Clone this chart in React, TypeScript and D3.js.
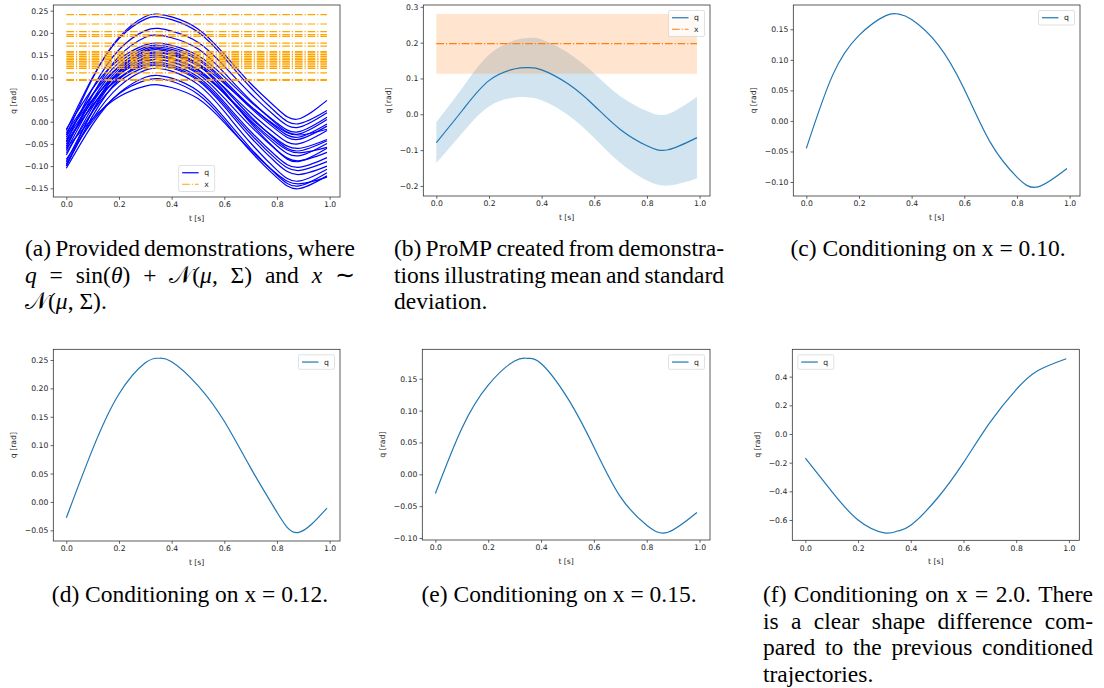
import * as d3 from 'd3';
import { useEffect, useRef } from 'react';

// ---------------- data ----------------
const tSamples = [0, 0.1, 0.2, 0.3, 0.35, 0.4, 0.5, 0.6, 0.7, 0.8, 0.88, 0.99];

// (a) demonstrations q
const demoQ = [
  [-0.03, 0.098, 0.19, 0.237, 0.242, 0.236, 0.209, 0.152, 0.086, 0.03, 0.006, 0.048],
  [-0.02, 0.1, 0.187, 0.231, 0.236, 0.23, 0.202, 0.144, 0.077, 0.019, -0.005, 0.025],
  [-0.045, 0.075, 0.162, 0.205, 0.21, 0.204, 0.179, 0.125, 0.063, 0.009, -0.013, 0.02],
  [-0.06, 0.06, 0.147, 0.19, 0.195, 0.189, 0.164, 0.11, 0.048, -0.006, -0.028, 0.005],
  [-0.017, 0.075, 0.14, 0.173, 0.177, 0.172, 0.149, 0.101, 0.045, -0.003, -0.023, 0.01],
  [-0.035, 0.062, 0.133, 0.168, 0.172, 0.167, 0.143, 0.093, 0.035, -0.014, -0.035, -0.005],
  [-0.055, 0.05, 0.125, 0.164, 0.168, 0.163, 0.139, 0.089, 0.031, -0.019, -0.04, -0.01],
  [-0.065, 0.042, 0.119, 0.158, 0.162, 0.156, 0.13, 0.075, 0.012, -0.043, -0.066, -0.043],
  [-0.025, 0.061, 0.123, 0.153, 0.157, 0.152, 0.131, 0.086, 0.034, -0.011, -0.03, -0.017],
  [-0.09, 0.023, 0.105, 0.145, 0.15, 0.144, 0.118, 0.064, 0.0, -0.054, -0.077, -0.049],
  [-0.04, 0.047, 0.111, 0.142, 0.146, 0.141, 0.116, 0.064, 0.003, -0.048, -0.07, -0.058],
  [-0.1, 0.013, 0.095, 0.135, 0.14, 0.134, 0.108, 0.053, -0.01, -0.065, -0.088, -0.069],
  [-0.05, 0.037, 0.099, 0.13, 0.134, 0.128, 0.101, 0.044, -0.022, -0.079, -0.103, -0.081],
  [-0.07, 0.023, 0.09, 0.123, 0.127, 0.121, 0.093, 0.034, -0.035, -0.094, -0.119, -0.1],
  [-0.095, 0.006, 0.079, 0.116, 0.12, 0.114, 0.084, 0.023, -0.048, -0.109, -0.134, -0.107],
  [-0.105, -0.006, 0.064, 0.1, 0.104, 0.098, 0.069, 0.009, -0.06, -0.12, -0.145, -0.115],
  [-0.085, 0.001, 0.063, 0.093, 0.097, 0.091, 0.062, 0.003, -0.067, -0.126, -0.151, -0.122],
  [-0.06, 0.007, 0.056, 0.08, 0.083, 0.077, 0.052, -0.002, -0.064, -0.118, -0.14, -0.125],
  [-0.03, 0.05, 0.107, 0.137, 0.14, 0.135, 0.112, 0.064, 0.008, -0.04, -0.06, -0.04],
  [-0.1, 0.025, 0.114, 0.16, 0.165, 0.159, 0.129, 0.068, -0.003, -0.065, -0.09, -0.06],
  [-0.045, 0.037, 0.097, 0.127, 0.13, 0.124, 0.096, 0.039, -0.028, -0.086, -0.11, -0.09],
  [-0.075, 0.033, 0.112, 0.15, 0.155, 0.15, 0.126, 0.077, 0.02, -0.03, -0.05, -0.02],
];
// (a) demonstrations x
const demoX = [0.241, 0.22, 0.203, 0.196, 0.192, 0.177, 0.17, 0.158, 0.155, 0.151, 0.147,
  0.143, 0.14, 0.136, 0.132, 0.128, 0.124, 0.12, 0.11, 0.095, 0.093, 0.135];

// (b) ProMP mean and std band
const promMean = [-0.079, 0.012, 0.094, 0.127, 0.13, 0.124, 0.085, 0.024, -0.043, -0.088, -0.099, -0.065];
const promUpper = [-0.022, 0.075, 0.166, 0.207, 0.213, 0.209, 0.172, 0.114, 0.05, 0.009, 0.001, 0.049];
const promLower = [-0.136, -0.051, 0.022, 0.047, 0.047, 0.039, -0.002, -0.066, -0.136, -0.185, -0.199, -0.179];
const promX = [0.197];
const promXBand = [0.113, 0.28];

// (c)-(f) conditioned trajectories
const condQ010 = [-0.045, 0.075, 0.14, 0.172, 0.175, 0.166, 0.125, 0.052, -0.036, -0.092, -0.108, -0.078];
const condQ012 = [-0.028, 0.093, 0.19, 0.245, 0.253, 0.247, 0.205, 0.142, 0.06, -0.018, -0.054, -0.011];
const condQ015 = [-0.03, 0.072, 0.14, 0.178, 0.182, 0.174, 0.12, 0.043, -0.035, -0.08, -0.091, -0.06];
const condQ200 = [-0.168, -0.4, -0.6, -0.69, -0.677, -0.637, -0.45, -0.2, 0.08, 0.31, 0.44, 0.525];

const xTicks = [0, 0.2, 0.4, 0.6, 0.8, 1.0];
const yTicksA = [-0.15, -0.1, -0.05, 0, 0.05, 0.1, 0.15, 0.2, 0.25];
const yTicksB = [-0.2, -0.1, 0, 0.1, 0.2, 0.3];
const yTicksC = [-0.1, -0.05, 0, 0.05, 0.1, 0.15];
const yTicksD = [-0.05, 0, 0.05, 0.1, 0.15, 0.2, 0.25];
const yTicksE = [-0.1, -0.05, 0, 0.05, 0.1, 0.15];
const yTicksF = [-0.6, -0.4, -0.2, 0, 0.2, 0.4];

// captions: *...* marks italic
const capA = [
  { w: ['(a)', 'Provided', 'demonstrations,', 'where'], mode: 'justify' },
  { w: ['*q*', '=', 'sin(*θ*)', '+', '𝒩(*μ*,', 'Σ)', 'and', '*x*', '∼'], mode: 'justify' },
  { w: ['𝒩(*μ*,', 'Σ).'], mode: 'left' },
];
const capB = [
  { w: ['(b)', 'ProMP', 'created', 'from', 'demonstra-'], mode: 'justify' },
  { w: ['tions', 'illustrating', 'mean', 'and', 'standard'], mode: 'justify' },
  { w: ['deviation.'], mode: 'left' },
];
const capC = [{ w: ['(c)', 'Conditioning', 'on', 'x', '=', '0.10.'], mode: 'center' }];
const capD = [{ w: ['(d)', 'Conditioning', 'on', 'x', '=', '0.12.'], mode: 'center' }];
const capE = [{ w: ['(e)', 'Conditioning', 'on', 'x', '=', '0.15.'], mode: 'center' }];
const capF = [
  { w: ['(f)', 'Conditioning', 'on', 'x', '=', '2.0.', 'There'], mode: 'justify' },
  { w: ['is', 'a', 'clear', 'shape', 'difference', 'com-'], mode: 'justify' },
  { w: ['pared', 'to', 'the', 'previous', 'conditioned'], mode: 'justify' },
  { w: ['trajectories.'], mode: 'left' },
];

// ---------------- styles ----------------
const SANS = "'DejaVu Sans', sans-serif";
const SERIF = "'Liberation Serif', 'Times New Roman', Times, serif";
const TICK_SIZE = 7.7;
const CAP_SIZE = 23.5;
const BLUE = '#0000ff';
const ORANGE = '#ffa500';
const TAB_BLUE = '#1f77b4';
const TAB_ORANGE = '#ff7f0e';
const INK = '#262626';
const X_DOMAIN = [-0.0495, 1.0395];

const panels = [
  { id: 'a', x0: 53.3, x1: 340, y0: 5, y1: 197, yDomain: [-0.1696, 0.2628], ticks: yTicksA, fmt: '.2f' },
  { id: 'b', x0: 423.3, x1: 710, y0: 5, y1: 196, yDomain: [-0.228, 0.305], ticks: yTicksB, fmt: '.1f' },
  { id: 'c', x0: 793.3, x1: 1080, y0: 5, y1: 196, yDomain: [-0.1229, 0.1898], ticks: yTicksC, fmt: '.2f' },
  { id: 'd', x0: 53.3, x1: 340, y0: 349.3, y1: 541, yDomain: [-0.0688, 0.2688], ticks: yTicksD, fmt: '.2f' },
  { id: 'e', x0: 422.3, x1: 710, y0: 349.3, y1: 540, yDomain: [-0.1031, 0.1962], ticks: yTicksE, fmt: '.2f' },
  { id: 'f', x0: 792.3, x1: 1079.3, y0: 349.3, y1: 540.3, yDomain: [-0.7417, 0.591], ticks: yTicksF, fmt: '.1f' },
];

const columns = [[25, 355], [394, 724], [763, 1093]];

function App() {
  const svgRef = useRef<SVGSVGElement>(null);

  useEffect(() => {
    document.body.style.margin = '0';
    const svg = d3.select(svgRef.current);
    svg.selectAll('*').remove();

    const scales: any = {};

    panels.forEach(p => {
      const x = d3.scaleLinear().domain(X_DOMAIN).range([p.x0, p.x1]);
      const y = d3.scaleLinear().domain(p.yDomain).range([p.y1, p.y0]);
      scales[p.id] = { x, y, p };
    });

    const smooth = d3.curveNatural;
    const line = (x: any, y: any) => d3.line<any>()
      .x((d, i) => x(tSamples[i]))
      .y(d => y(d))
      .curve(smooth);

    // (a) demonstrations
    {
      const { x, y } = scales.a;
      const g = svg.append('g');
      demoQ.forEach(q => {
        g.append('path').datum(q).attr('d', line(x, y))
          .attr('fill', 'none').attr('stroke', BLUE).attr('stroke-width', 1.2);
      });
      demoX.forEach(v => {
        g.append('line')
          .attr('x1', x(tSamples[0])).attr('x2', x(tSamples[tSamples.length - 1]))
          .attr('y1', y(v)).attr('y2', y(v))
          .attr('stroke', ORANGE).attr('stroke-width', 1.2)
          .attr('stroke-dasharray', '7.7,1.9,1.2,1.9');
      });
    }

    // (b) ProMP
    {
      const { x, y } = scales.b;
      const g = svg.append('g');
      const band = d3.area<any>()
        .x((d, i) => x(tSamples[i]))
        .y0((d, i) => y(promLower[i]))
        .y1(d => y(d))
        .curve(smooth);
      g.append('path').datum(promUpper).attr('d', band)
        .attr('fill', TAB_BLUE).attr('fill-opacity', 0.2);
      const xs = [tSamples[0], tSamples[tSamples.length - 1]];
      const xBand = d3.area<number>().x(d => x(d)).y0(y(promXBand[0])).y1(y(promXBand[1]));
      g.append('path').datum(xs).attr('d', xBand)
        .attr('fill', TAB_ORANGE).attr('fill-opacity', 0.2);
      g.append('path').datum(promMean).attr('d', line(x, y))
        .attr('fill', 'none').attr('stroke', TAB_BLUE).attr('stroke-width', 1.2);
      g.append('line')
        .attr('x1', x(xs[0])).attr('x2', x(xs[1]))
        .attr('y1', y(promX[0])).attr('y2', y(promX[0]))
        .attr('stroke', TAB_ORANGE).attr('stroke-width', 1.2)
        .attr('stroke-dasharray', '7.7,1.9,1.2,1.9');
    }

    // (c)-(f) conditioned
    [['c', condQ010], ['d', condQ012], ['e', condQ015], ['f', condQ200]].forEach(([id, q]: any) => {
      const { x, y } = scales[id];
      svg.append('path').datum(q).attr('d', line(x, y))
        .attr('fill', 'none').attr('stroke', TAB_BLUE).attr('stroke-width', 1.2);
    });

    // axes, spines, labels
    panels.forEach(p => {
      const { x, y } = scales[p.id];
      const g = svg.append('g');
      const xa = g.append('g').attr('transform', `translate(0,${p.y1})`)
        .call(d3.axisBottom(x).tickValues(xTicks).tickFormat(d3.format('.1f')).tickSize(2.8).tickPadding(2.2));
      const ya = g.append('g').attr('transform', `translate(${p.x0},0)`)
        .call(d3.axisLeft(y).tickValues(p.ticks).tickFormat(d3.format(p.fmt)).tickSize(2.8).tickPadding(2.2));
      [xa, ya].forEach(a => {
        a.select('.domain').remove();
        a.selectAll('line').attr('stroke', INK).attr('stroke-width', 0.7);
        a.selectAll('text').attr('font-family', SANS).attr('font-size', TICK_SIZE).attr('fill', INK);
      });
      g.append('rect')
        .attr('x', p.x0).attr('y', p.y0)
        .attr('width', p.x1 - p.x0).attr('height', p.y1 - p.y0)
        .attr('fill', 'none').attr('stroke', INK).attr('stroke-width', 0.75);

      g.append('text')
        .attr('x', (p.x0 + p.x1) / 2).attr('y', p.y1 + 24)
        .attr('text-anchor', 'middle')
        .attr('font-family', SANS).attr('font-size', TICK_SIZE).attr('fill', INK)
        .text('t [s]');

      let maxW = 0;
      ya.selectAll('text').each(function () {
        maxW = Math.max(maxW, (this as SVGTextElement).getComputedTextLength());
      });
      const lx = p.x0 - 5 - maxW - 8.5;
      g.append('text')
        .attr('transform', `translate(${lx},${(p.y0 + p.y1) / 2}) rotate(-90)`)
        .attr('text-anchor', 'middle')
        .attr('font-family', SANS).attr('font-size', TICK_SIZE).attr('fill', INK)
        .text('q [rad]');
    });

    // legends
    const legend = (id: string, where: string, entries: any[]) => {
      const { p } = scales[id];
      const w = 36;
      const h = 14.5 + 11.5 * (entries.length - 1);
      let bx = p.x1 - 5.5 - w;
      let by = p.y0 + 5.5;
      if (where === 'lower center') { bx = (p.x0 + p.x1) / 2 - w / 2; by = p.y1 - 5.5 - h; }
      if (where === 'upper left') { bx = p.x0 + 5.5; }
      const g = svg.append('g');
      g.append('rect').attr('x', bx).attr('y', by).attr('width', w).attr('height', h)
        .attr('rx', 1.5).attr('fill', '#fff').attr('fill-opacity', 0.8)
        .attr('stroke', '#cccccc').attr('stroke-width', 0.6);
      entries.forEach((e, i) => {
        const cy = by + 7.25 + i * 11.5;
        g.append('line').attr('x1', bx + 3.5).attr('x2', bx + 20).attr('y1', cy).attr('y2', cy)
          .attr('stroke', e.color).attr('stroke-width', 1.2)
          .attr('stroke-dasharray', e.dash ? '7.7,1.9,1.2,1.9' : null);
        g.append('text').attr('x', bx + 25.5).attr('y', cy).attr('dy', '0.32em')
          .attr('font-family', SANS).attr('font-size', TICK_SIZE).attr('fill', INK)
          .text(e.label);
      });
    };
    legend('a', 'lower center', [{ label: 'q', color: BLUE }, { label: 'x', color: ORANGE, dash: true }]);
    legend('b', 'upper right', [{ label: 'q', color: TAB_BLUE }, { label: 'x', color: TAB_ORANGE, dash: true }]);
    legend('c', 'upper right', [{ label: 'q', color: TAB_BLUE }]);
    legend('d', 'upper right', [{ label: 'q', color: TAB_BLUE }]);
    legend('e', 'upper right', [{ label: 'q', color: TAB_BLUE }]);
    legend('f', 'upper left', [{ label: 'q', color: TAB_BLUE }]);

    // captions (justified like the paper)
    const caption = (col: number[], baseline: number, lines: any[]) => {
      const g = svg.append('g');
      const space = CAP_SIZE * 0.25;
      lines.forEach((ln, li) => {
        const yb = baseline + li * 26.5;
        const words = ln.w.map((wd: string) => {
          const t = g.append('text').attr('y', yb)
            .attr('font-family', SERIF).attr('font-size', CAP_SIZE).attr('fill', '#000');
          wd.split('*').forEach((seg, i) => {
            if (seg) t.append('tspan').attr('font-style', i % 2 ? 'italic' : 'normal').text(seg);
          });
          return { t, w: (t.node() as SVGTextElement).getComputedTextLength() };
        });
        const sum = d3.sum(words, (d: any) => d.w);
        const n = words.length;
        let gap = space;
        let xPos = col[0];
        if (ln.mode === 'justify' && n > 1) gap = (col[1] - col[0] - sum) / (n - 1);
        if (ln.mode === 'center') xPos = (col[0] + col[1]) / 2 - (sum + gap * (n - 1)) / 2;
        words.forEach((d: any) => {
          d.t.attr('x', xPos);
          xPos += d.w + gap;
        });
      });
    };
    caption(columns[0], 256, capA);
    caption(columns[1], 256, capB);
    caption(columns[2], 256, capC);
    caption(columns[0], 602, capD);
    caption(columns[1], 602, capE);
    caption(columns[2], 602, capF);
  }, []);

  return (
    <svg ref={svgRef} width={1104} height={688} style={{ display: 'block', background: '#fff' }} />
  );
}

export default App;
